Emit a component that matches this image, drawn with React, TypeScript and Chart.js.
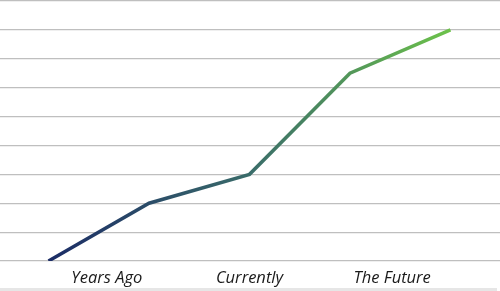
import React, { useEffect, useRef } from "react";
import { Chart, registerables } from "chart.js";

Chart.register(...registerables);

const pointIndex = [0, 1, 2, 3, 4];
const seriesValues = [0, 2, 3, 6.5, 8];
const tickLabels = ["Years Ago", "Currently", "The Future"];
const tickPositions = [0.58, 2.0, 3.42];

export default function App() {
  const ref = useRef<HTMLCanvasElement | null>(null);

  useEffect(() => {
    const prevMargin = document.body.style.margin;
    document.body.style.margin = "0";
    const canvas = ref.current;
    if (!canvas) return;
    const chart = new Chart(canvas, {
      type: "line",
      data: {
        datasets: [
          {
            data: pointIndex.map((x, i) => ({ x, y: seriesValues[i] })),
            borderWidth: 3.5,
            pointRadius: 0,
            tension: 0,
            borderCapStyle: "butt",
            borderJoinStyle: "miter",
            borderColor: (ctx: any) => {
              const c = ctx.chart;
              const area = c.chartArea;
              if (!area) return "#2a4f6a";
              const xs = c.scales.x;
              const g = c.ctx.createLinearGradient(
                xs.getPixelForValue(0),
                0,
                xs.getPixelForValue(4),
                0
              );
              g.addColorStop(0, "#1b2c66");
              g.addColorStop(0.5, "#3a6c6a");
              g.addColorStop(1, "#6cc24a");
              return g;
            },
          },
        ],
      },
      options: {
        animation: false,
        responsive: true,
        maintainAspectRatio: false,
        layout: { padding: { top: 1, left: 0, right: 0, bottom: 0 } },
        plugins: { legend: { display: false }, tooltip: { enabled: false } },
        scales: {
          x: {
            type: "linear",
            min: -0.483,
            max: 4.493,
            grid: { display: false, drawTicks: false },
            border: { display: false },
            afterBuildTicks: (axis: any) => {
              axis.ticks = tickPositions.map((v) => ({ value: v }));
            },
            afterFit: (axis: any) => {
              axis.height = 27;
            },
            ticks: {
              autoSkip: false,
              maxRotation: 0,
              padding: 7,
              color: "#1a1a1a",
              font: { family: "'Open Sans'", size: 16.5, style: "italic" },
              callback: (value: any) => {
                const i = tickPositions.indexOf(Number(value));
                return i >= 0 ? tickLabels[i] : "";
              },
            },
          },
          y: {
            min: 0,
            max: 9,
            ticks: { display: false, stepSize: 1 },
            grid: { color: "#bfbfbf", lineWidth: 1.2, drawTicks: false },
            border: { display: false },
          },
        },
      },
    });
    return () => {
      chart.destroy();
      document.body.style.margin = prevMargin;
    };
  }, []);

  return (
    <div
      style={{
        position: "fixed",
        left: 0,
        top: 0,
        width: 500,
        height: 291,
        background: "#fff",
      }}
    >
      <div style={{ position: "relative", width: 500, height: 288 }}>
        <canvas ref={ref} />
      </div>
      <div style={{ width: 497, height: 3, background: "#e6e6e6" }} />
    </div>
  );
}
